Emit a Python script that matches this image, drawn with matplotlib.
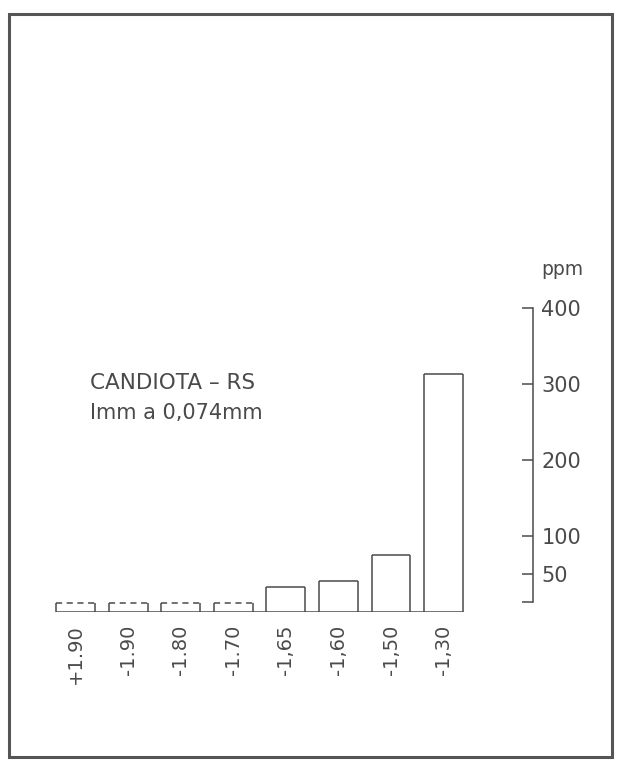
import matplotlib.pyplot as plt
from matplotlib.patches import Rectangle

# density fractions (hand-lettered labels) and ppm
fractions = ["+1.90", "-1.90", "-1.80", "-1.70", "-1,65", "-1,60", "-1,50", "-1,30"]
ppm = [12, 12, 12, 12, 33, 41, 75, 314]
dashed = [True, True, True, True, False, False, False, False]
ytick_values = [13, 50, 100, 200, 300, 400]
ytick_labels = ["", "50", "100", "200", "300", "400"]

ink = "#4a4a4a"
plt.rcParams['font.family'] = ['DejaVu Sans']

fig = plt.figure(figsize=(6.2, 7.61), dpi=100)
ax = fig.add_axes([23 / 620, 149 / 761, 510 / 620, 319 / 761])

xs = range(len(fractions))
bars = ax.bar(xs, ppm, width=0.74, facecolor="none", edgecolor="none")

# outline each bar: solid sides, dashed top for the trace values
for bar, dash in zip(bars, dashed):
    x0 = bar.get_x()
    x1 = x0 + bar.get_width()
    h = bar.get_height()
    ax.vlines([x0, x1], 0, h, color=ink, lw=1.1)
    ax.hlines(h, x0, x1, color=ink, lw=1.1, linestyles=(0, (4, 3)) if dash else "solid")

# common baseline under all bars
ax.hlines(0, bars[0].get_x(), bars[-1].get_x() + bars[-1].get_width(), color=ink, lw=1.1)

ax.set_xlim(-1, 8.70)
ax.set_ylim(0, 420)

for side in ["top", "left", "bottom"]:
    ax.spines[side].set_visible(False)
ax.spines["right"].set_bounds(13, 400)
ax.spines["right"].set_color(ink)
ax.spines["right"].set_linewidth(1.1)

ax.yaxis.tick_right()
ax.set_yticks(ytick_values)
ax.set_yticklabels(ytick_labels, fontsize=15, color=ink)
ax.tick_params(axis="y", direction="in", length=8, width=1.1, color=ink, pad=6)

ax.set_xticks(list(xs))
ax.set_xticklabels(fractions, rotation=90, fontsize=14, color=ink, va="top")
ax.tick_params(axis="x", length=0, pad=9)

fig.text(541 / 620, 1 - 270 / 761, "ppm", fontsize=13.5, color=ink, va="center")
fig.text(90 / 620, 1 - 383 / 761, "CANDIOTA \u2013 RS", fontsize=15.5, color=ink, va="center")
fig.text(90 / 620, 1 - 413 / 761, "Imm a 0,074mm", fontsize=15, color=ink, va="center")

# scanned page border
fig.patches.append(Rectangle((9 / 620, 4 / 761), 603 / 620, 743 / 761,
                             transform=fig.transFigure, fill=False,
                             edgecolor="#555555", lw=2.2))

fig.savefig("out.png", dpi=100)
